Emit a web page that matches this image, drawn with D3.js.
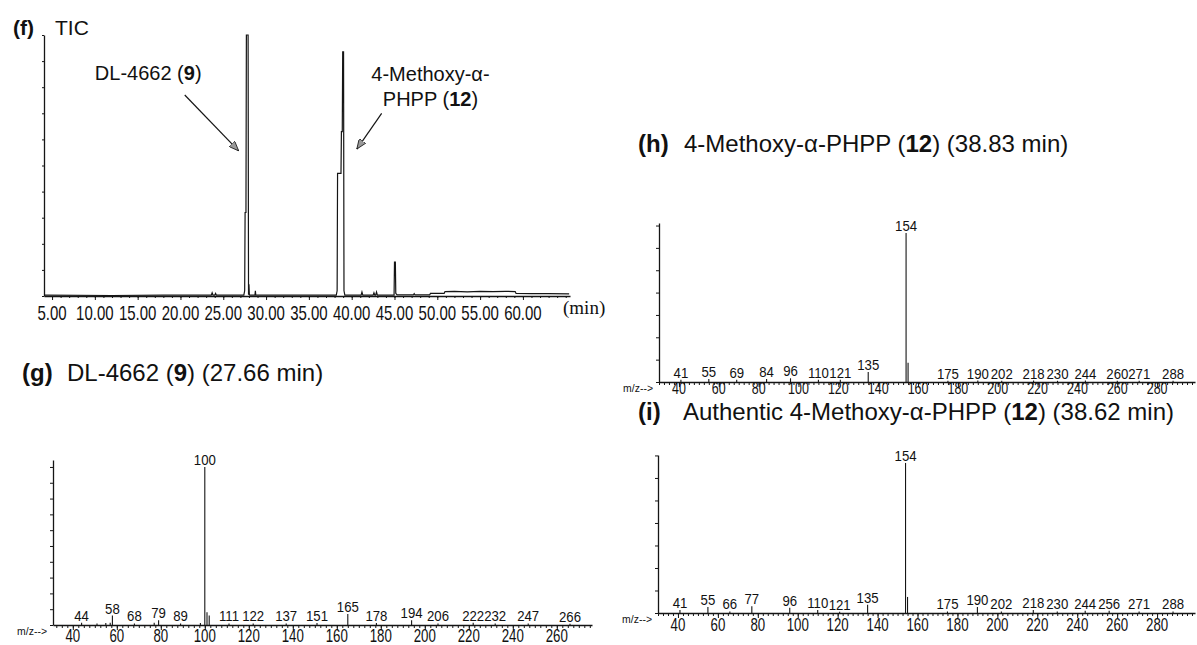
<!DOCTYPE html>
<html>
<head>
<meta charset="utf-8">
<script src="https://cdn.jsdelivr.net/npm/d3@7"></script>
<style>
body { margin: 0; background: #fff; }
svg text { font-family: "Liberation Sans", Arial, sans-serif; fill: #111; }
</style>
</head>
<body>
<svg id="fig" width="1197" height="645"></svg>
<script>
// (f) TIC chromatogram, time in min, abundance in % of largest peak
var ticTime  = [4.06, 12.0, 18.0, 23.6, 23.7, 23.8, 24.0, 24.1, 24.2, 27.4, 27.5, 27.55, 27.65, 27.7, 27.9, 27.95, 28.0, 28.05, 28.1, 28.7, 28.75, 28.8,
                38.2, 38.3, 38.35, 38.75, 38.8, 38.9, 38.95, 39.05, 39.1, 39.2, 41.1, 41.2, 41.3, 42.5, 42.6, 42.7, 42.8, 42.9, 43.0,
                44.95, 45.0, 45.1, 45.15, 45.3, 47.2, 47.3, 47.4, 49.1, 49.2, 50.8, 50.9, 52.0, 53.5, 55.0, 56.5, 58.0, 59.1, 59.2, 61.0, 63.0, 65.4];
var ticAbund = [0.3, 0.2, 0.3, 0.3, 1.2, 0.3, 0.3, 1.0, 0.3, 0.3, 2, 32, 32, 100, 100, 0.5, 4.5, 0.4, 0.3, 0.3, 2.0, 0.3,
                0.3, 2, 47, 47, 63, 63, 93.5, 93.5, 2, 0.3, 0.3, 1.5, 0.3, 0.3, 1.2, 0.3, 0.3, 1.5, 0.3,
                0.3, 13, 13, 1, 0.4, 0.4, 0.9, 0.4, 0.4, 1.0, 1.0, 1.7, 1.8, 1.6, 1.8, 1.7, 1.8, 1.7, 1.0, 0.9, 0.9, 0.8];
var ticTicks = [5, 10, 15, 20, 25, 30, 35, 40, 45, 50, 55, 60];

// (g) DL-4662 (9), 27.66 min
var gMz    = [44, 51, 55, 57, 58, 68, 77, 79, 89, 98, 100, 101, 102, 111, 122, 137, 151, 165, 178, 194, 206, 222, 232, 247, 266];
var gAbund = [1.5, 1, 1.2, 1.5, 6, 1, 1.5, 3, 1, 1.2, 100, 8, 6, 1, 1, 1, 1.2, 7, 1.2, 3, 1, 1.5, 1, 1, 0.8];
var gLabel = [44, 58, 68, 79, 89, 100, 111, 122, 137, 151, 165, 178, 194, 206, 222, 232, 247, 266];
var gTicks = [40, 60, 80, 100, 120, 140, 160, 180, 200, 220, 240, 260];

// (h) 4-Methoxy-a-PHPP (12), 38.83 min
var hMz    = [41, 55, 69, 84, 96, 110, 121, 135, 154, 155, 175, 190, 202, 218, 230, 244, 260, 271, 288];
var hAbund = [1.5, 2, 1.5, 2, 2.5, 1.5, 1.5, 6.7, 100, 13, 0.8, 1, 0.8, 1, 0.8, 1, 0.8, 0.8, 0.8];
var hLabel = [41, 55, 69, 84, 96, 110, 121, 135, 154, 175, 190, 202, 218, 230, 244, 260, 271, 288];
var hTicks = [40, 60, 80, 100, 120, 140, 160, 180, 200, 220, 240, 260, 280];

// (i) authentic 4-Methoxy-a-PHPP (12), 38.62 min
var iMz    = [41, 55, 66, 77, 96, 110, 121, 135, 154, 155, 175, 190, 202, 218, 230, 244, 256, 271, 288];
var iAbund = [2, 4, 1, 4.5, 3.5, 2, 0.8, 5.5, 100, 10.7, 1, 4, 1, 2, 1, 1.5, 1.5, 1, 1];
var iLabel = [41, 55, 66, 77, 96, 110, 121, 135, 154, 175, 190, 202, 218, 230, 244, 256, 271, 288];
var iTicks = [40, 60, 80, 100, 120, 140, 160, 180, 200, 220, 240, 260, 280];

var svg = d3.select("#fig");
var ink = "#151515";

svg.append("defs").append("marker")
    .attr("id", "arr")
    .attr("viewBox", "0 0 10 8")
    .attr("refX", 10).attr("refY", 4)
    .attr("markerWidth", 10).attr("markerHeight", 8)
    .attr("markerUnits", "userSpaceOnUse")
    .attr("orient", "auto")
  .append("path")
    .attr("d", "M0,0L10,4L0,8Z")
    .attr("fill", "#999").attr("stroke", ink).attr("stroke-width", 0.8);

// narrow text helper (the scanned labels are condensed)
function label(g, x, y, txt, size, sx, anchor) {
  return g.append("text")
    .attr("transform", "translate(" + x + "," + y + ") scale(" + sx + ",1)")
    .attr("text-anchor", anchor || "middle")
    .style("font-size", size + "px")
    .text(txt);
}

function styleAxis(a) {
  a.selectAll("path, line").attr("stroke", ink).attr("stroke-width", 1);
  a.select(".domain").attr("stroke-width", 1.3);
}

// ---------- (f) TIC ----------
var fx = d3.scaleLinear().domain([4.06, 65.5]).range([44, 570]);
var fy = d3.scaleLinear().domain([0, 100]).range([296, 35]);

var ya = svg.append("g").attr("transform", "translate(44,0)")
    .call(d3.axisLeft(fy).tickValues(d3.range(0, 101, 10)).tickSize(2).tickSizeOuter(0).tickFormat(""));
styleAxis(ya);
var xa = svg.append("g").attr("transform", "translate(0,296)")
    .call(d3.axisBottom(fx).tickValues(d3.range(5, 66, 1)).tickSize(2).tickSizeOuter(0).tickFormat(""));
styleAxis(xa);
var xb = svg.append("g").attr("transform", "translate(0,296)")
    .call(d3.axisBottom(fx).tickValues(ticTicks).tickSize(4).tickSizeOuter(0).tickFormat(""));
styleAxis(xb);
xb.select(".domain").remove();

ticTicks.forEach(function(t) { label(svg, fx(t), 320, t.toFixed(2), 20, 0.75); });
svg.append("text").attr("x", 563).attr("y", 314)
    .style("font-family", "'Liberation Serif', 'Times New Roman', serif").style("font-size", "19px")
    .text("(min)");

svg.append("path")
    .datum(d3.range(ticTime.length))
    .attr("fill", "none").attr("stroke", ink).attr("stroke-width", 1.2)
    .attr("d", d3.line().x(function(i) { return fx(ticTime[i]); }).y(function(i) { return fy(ticAbund[i]); }));

svg.append("text").attr("x", 13).attr("y", 35).style("font-size", "21px").style("font-weight", "bold").text("(f)");
svg.append("text").attr("x", 55).attr("y", 35).style("font-size", "21px").text("TIC");

var t1 = svg.append("text").attr("x", fx(10.0)).attr("y", fy(82.8)).style("font-size", "20px");
t1.append("tspan").text("DL-4662 (");
t1.append("tspan").style("font-weight", "bold").text("9");
t1.append("tspan").text(")");

svg.append("text").attr("x", fx(49.2)).attr("y", fy(82.4)).attr("text-anchor", "middle")
    .style("font-size", "20px").text("4-Methoxy-\u03b1-");
var t2 = svg.append("text").attr("x", fx(49.2)).attr("y", fy(72.8)).attr("text-anchor", "middle").style("font-size", "20px");
t2.append("tspan").text("PHPP (");
t2.append("tspan").style("font-weight", "bold").text("12");
t2.append("tspan").text(")");

svg.append("line").attr("x1", fx(20.5)).attr("y1", fy(77)).attr("x2", fx(26.8)).attr("y2", fy(55.6))
    .attr("stroke", ink).attr("stroke-width", 1.2).attr("marker-end", "url(#arr)");
svg.append("line").attr("x1", fx(43.5)).attr("y1", fy(70)).attr("x2", fx(40.6)).attr("y2", fy(56.3))
    .attr("stroke", ink).attr("stroke-width", 1.2).attr("marker-end", "url(#arr)");

// ---------- mass spectra ----------
function spectrum(o) {
  var x = d3.scaleLinear().domain(o.xDom).range([o.left, o.right]);
  var y = d3.scaleLinear().domain([0, o.yMax]).range([o.base, o.top]);
  var g = svg.append("g");

  var ay = g.append("g").attr("transform", "translate(" + o.left + ",0)")
      .call(d3.axisLeft(y).tickValues(d3.range(0, o.yMax, o.yStep)).tickSize(3).tickSizeOuter(0).tickFormat(""));
  styleAxis(ay);
  var ax = g.append("g").attr("transform", "translate(0," + o.base + ")")
      .call(d3.axisBottom(x).tickValues(d3.range(Math.ceil(o.xDom[0] / 2.5) * 2.5, o.xDom[1], 2.5)).tickSize(3).tickSizeOuter(0).tickFormat(""));
  styleAxis(ax);
  var ax2 = g.append("g").attr("transform", "translate(0," + o.base + ")")
      .call(d3.axisBottom(x).tickValues(o.ticks).tickSize(5).tickSizeOuter(0).tickFormat(""));
  styleAxis(ax2);
  ax2.select(".domain").remove();

  o.ticks.forEach(function(v) { label(g, x(v), o.tickY, v, o.tickSize, o.tickSx); });
  label(g, o.left - 6, o.base + 10, "m/z-->", 11, 0.95, "end");

  g.selectAll(".peak")
      .data(d3.range(o.mz.length))
    .enter().append("line")
      .attr("class", "peak")
      .attr("x1", function(i) { return x(o.mz[i]); })
      .attr("x2", function(i) { return x(o.mz[i]); })
      .attr("y1", y(0))
      .attr("y2", function(i) { return y(o.ab[i]); })
      .attr("stroke", ink).attr("stroke-width", 1.1);

  o.lab.forEach(function(m) {
    var a = o.ab[o.mz.indexOf(m)];
    label(g, x(m), y(a) - 2, m, 15, 0.88);
  });

  var tt = g.append("text").attr("x", o.titleX).attr("y", o.titleY).style("font-size", "24px");
  tt.append("tspan").style("font-weight", "bold").text(o.tag);
  tt.append("tspan").attr("x", o.textX).text(o.pre);
  tt.append("tspan").style("font-weight", "bold").text(o.num);
  tt.append("tspan").text(o.post);
}

spectrum({ mz: gMz, ab: gAbund, lab: gLabel, ticks: gTicks,
  xDom: [31, 276], left: 53, right: 592, base: 625, top: 460, yMax: 104.4, yStep: 10, tickY: 642, tickSize: 19, tickSx: 0.7,
  tag: "(g)", pre: "DL-4662 (", num: "9", post: ") (27.66 min)", titleX: 22, textX: 67, titleY: 381 });

spectrum({ mz: hMz, ab: hAbund, lab: hLabel, ticks: hTicks,
  xDom: [30, 299], left: 659, right: 1195, base: 382, top: 223, yMax: 106.7, yStep: 15, tickY: 394, tickSize: 16, tickSx: 0.78,
  tag: "(h)", pre: "4-Methoxy-\u03b1-PHPP (", num: "12", post: ") (38.83 min)", titleX: 638, textX: 684, titleY: 152 });

spectrum({ mz: iMz, ab: iAbund, lab: iLabel, ticks: iTicks,
  xDom: [30, 299], left: 658, right: 1195, base: 613, top: 455, yMax: 105.3, yStep: 15, tickY: 631, tickSize: 19, tickSx: 0.7,
  tag: "(i)", pre: "Authentic 4-Methoxy-\u03b1-PHPP (", num: "12", post: ") (38.62 min)", titleX: 638, textX: 683, titleY: 420 });
</script>
</body>
</html>
